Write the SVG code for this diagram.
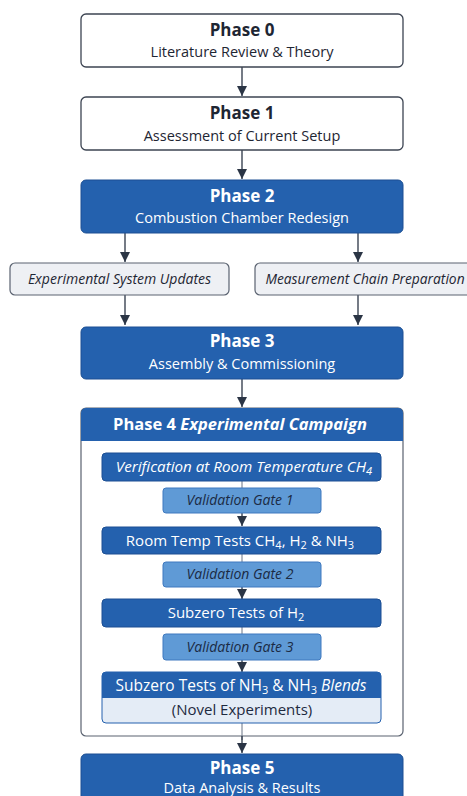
<svg xmlns="http://www.w3.org/2000/svg" width="467" height="796" viewBox="0 0 467 796">
<defs>
<marker id="ah" viewBox="0 0 10 10" refX="10" refY="5" markerWidth="10" markerHeight="10" markerUnits="userSpaceOnUse" orient="auto">
<path d="M0,0 L10,5 L0,10 Z" fill="#2b3545"/>
</marker>
<style>
text{font-family:"Open Sans","Liberation Sans",sans-serif;text-anchor:middle}
.wbox{fill:#ffffff;stroke:#3c4452;stroke-width:1.3}
.bbox{fill:#2461ae;stroke:#1c4f93;stroke-width:1}
.gbox{fill:#eef0f4;stroke:#5a6270;stroke-width:1.2}
.gate{fill:#5f9ad6;stroke:#3f79bf;stroke-width:1}
.ttl{font-size:17px;font-weight:700}
.sub{font-size:14.5px}
.dk{fill:#1e2633}
.wt{fill:#ffffff}
.it{font-style:italic}
.in{font-size:15px}
.sb{font-size:11px}
.gt{font-size:14px;font-style:italic;fill:#1b2a44}
.ln{stroke:#2b3545;stroke-width:1.3;fill:none}
.thin{stroke:#6b7585;stroke-width:1;fill:none}
</style>
</defs>
<rect width="467" height="796" fill="#ffffff"/>
<g id="phase4">
<rect x="81" y="408" width="322" height="328" rx="5" fill="#ffffff" stroke="#5a6270" stroke-width="1.2"/>
<path d="M86,408 H398 A5,5 0 0 1 403,413 V441 H81 V413 A5,5 0 0 1 86,408 Z" fill="#2461ae"/>
<text class="wt" x="240" y="430" font-size="16.5" font-weight="700">Phase 4 <tspan font-style="italic">Experimental  Campaign</tspan></text>
</g>
<g id="connectors">
<line class="ln" x1="242" y1="67" x2="242" y2="96" marker-end="url(#ah)"/>
<line class="ln" x1="242" y1="150" x2="242" y2="179" marker-end="url(#ah)"/>
<line class="ln" x1="125" y1="233" x2="125" y2="262" marker-end="url(#ah)"/>
<line class="ln" x1="358" y1="233" x2="358" y2="262" marker-end="url(#ah)"/>
<line class="ln" x1="125" y1="295" x2="125" y2="325" marker-end="url(#ah)"/>
<line class="ln" x1="358" y1="295" x2="358" y2="325" marker-end="url(#ah)"/>
<line class="ln" x1="242" y1="379" x2="242" y2="407" marker-end="url(#ah)"/>
<line class="thin" x1="242" y1="481" x2="242" y2="488"/>
<line class="ln" x1="242" y1="513" x2="242" y2="526" marker-end="url(#ah)"/>
<line class="thin" x1="242" y1="554" x2="242" y2="562"/>
<line class="ln" x1="242" y1="587" x2="242" y2="599" marker-end="url(#ah)"/>
<line class="thin" x1="242" y1="627" x2="242" y2="634"/>
<line class="ln" x1="242" y1="660" x2="242" y2="672" marker-end="url(#ah)"/>
<line class="thin" x1="242" y1="723" x2="242" y2="740"/>
<line class="ln" x1="242" y1="736" x2="242" y2="753" marker-end="url(#ah)"/>
</g>
<g id="phase0">
<rect class="wbox" x="81" y="14" width="322" height="53" rx="5"/>
<text class="ttl dk" x="242" y="36">Phase 0</text>
<text class="sub dk" x="242" y="57">Literature Review &amp; Theory</text>
</g>
<g id="phase1">
<rect class="wbox" x="81" y="97" width="322" height="53" rx="5"/>
<text class="ttl dk" x="242" y="119">Phase 1</text>
<text class="sub dk" x="242" y="141">Assessment of Current Setup</text>
</g>
<g id="phase2">
<rect class="bbox" x="81" y="180" width="322" height="53" rx="5"/>
<text class="ttl wt" x="242" y="202">Phase 2</text>
<text class="sub wt" x="242" y="223">Combustion Chamber Redesign</text>
</g>
<g id="expupdates">
<rect class="gbox" x="10" y="263" width="219" height="32" rx="5"/>
<text class="dk it" x="119.5" y="284" font-size="14">Experimental System Updates</text>
</g>
<g id="measchain">
<rect class="gbox" x="255" y="263" width="222" height="32" rx="5"/>
<text class="dk it" x="365" y="284" font-size="13.8">Measurement Chain Preparation</text>
</g>
<g id="phase3">
<rect class="bbox" x="81" y="327" width="322" height="52" rx="5"/>
<text class="ttl wt" x="242" y="347">Phase 3</text>
<text class="sub wt" x="242" y="369">Assembly &amp; Commissioning</text>
</g>
<g id="verif">
<rect class="bbox" x="102" y="453" width="279" height="28" rx="4"/>
<text class="wt it" x="244" y="472" font-size="15.2">Verification at Room Temperature CH<tspan class="sb" dy="3">4</tspan></text>
</g>
<g id="gate1">
<rect class="gate" x="163" y="488" width="158" height="25" rx="3"/>
<text class="gt" x="240" y="505">Validation Gate 1</text>
</g>
<g id="roomtests">
<rect class="bbox" x="102" y="527" width="279" height="27" rx="4"/>
<text class="in wt" x="240" y="546">Room Temp Tests CH<tspan class="sb" dy="3">4</tspan><tspan dy="-3">, H</tspan><tspan class="sb" dy="3">2</tspan><tspan dy="-3">  &amp; NH</tspan><tspan class="sb" dy="3">3</tspan></text>
</g>
<g id="gate2">
<rect class="gate" x="163" y="562" width="158" height="25" rx="3"/>
<text class="gt" x="240" y="579">Validation Gate 2</text>
</g>
<g id="subzeroh2">
<rect class="bbox" x="102" y="599" width="279" height="28" rx="4"/>
<text class="in wt" x="236" y="618">Subzero Tests of  H<tspan class="sb" dy="3">2</tspan></text>
</g>
<g id="gate3">
<rect class="gate" x="163" y="634" width="158" height="26" rx="3"/>
<text class="gt" x="240" y="652">Validation Gate 3</text>
</g>
<g id="subzeronh3">
<rect x="102" y="672" width="279" height="51" rx="4" fill="#e4ecf6" stroke="#2461ae" stroke-width="1"/>
<path d="M106,672 H377 A4,4 0 0 1 381,676 V698 H102 V676 A4,4 0 0 1 106,672 Z" fill="#2461ae"/>
<text class="wt" x="241" y="691" font-size="15.5">Subzero Tests of NH<tspan class="sb" dy="3">3</tspan><tspan dy="-3">  &amp; NH</tspan><tspan class="sb" dy="3">3</tspan><tspan dy="-3" font-style="italic">  Blends</tspan></text>
<text class="in" x="242" y="715" fill="#1e2a40" font-size="14">(Novel Experiments)</text>
</g>
<g id="phase5">
<rect class="bbox" x="81" y="754" width="322" height="60" rx="5"/>
<text class="ttl wt" x="242" y="774">Phase 5</text>
<text class="sub wt" x="242" y="793">Data Analysis &amp; Results</text>
</g>
</svg>
